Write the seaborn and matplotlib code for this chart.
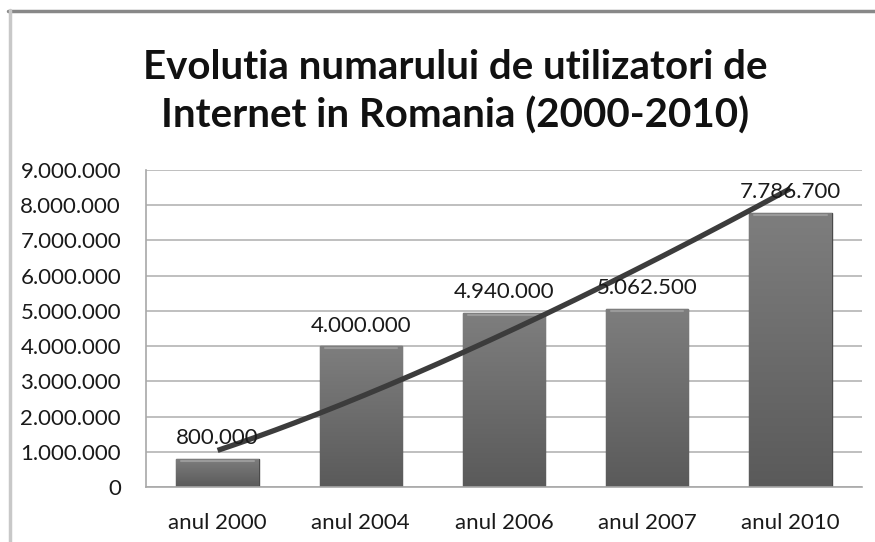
import numpy as np
import pandas as pd
import matplotlib
matplotlib.use("Agg")
import matplotlib.pyplot as plt
import seaborn as sns
from matplotlib.ticker import FuncFormatter, MultipleLocator
from matplotlib.lines import Line2D

categories = ["anul 2000", "anul 2004", "anul 2006", "anul 2007", "anul 2010"]
users = [800000, 4000000, 4940000, 5062500, 7786700]
value_labels = ["800.000", "4.000.000", "4.940.000", "5.062.500", "7.786.700"]
title_text = "Evolutia numarului de utilizatori de\nInternet in Romania (2000-2010)"

sns.set_theme(style="white")
plt.rcParams['font.family'] = ['Lato', 'DejaVu Sans']

df = pd.DataFrame({"cat": categories, "val": users})

fig = plt.figure(figsize=(8.75, 5.42), dpi=100)
ax = fig.add_axes([146/875, 1 - 487/542, (862-146)/875, (487-170)/542])

sns.barplot(data=df, x="cat", y="val", ax=ax, color="#6a6a6a", width=0.575,
            saturation=1, edgecolor="#4a4a4a", linewidth=1, zorder=2)

# gradient fill on bars
grad = np.linspace(0, 1, 256).reshape(-1, 1)
cmap = matplotlib.colors.LinearSegmentedColormap.from_list("g", ["#5a5a5a", "#7e7e7e"])
for p in ax.patches:
    x0, y0 = p.get_x(), p.get_y()
    w, h = p.get_width(), p.get_height()
    im = ax.imshow(grad, extent=[x0, x0 + w, y0, y0 + h], origin="lower",
                   cmap=cmap, aspect="auto", zorder=2.1)
    im.set_clip_path(p)
    ax.add_line(Line2D([x0 + w*0.06, x0 + w*0.94], [y0 + h - 60000, y0 + h - 60000],
                       color="#9a9a9a", lw=1.5, zorder=2.2))

ax.set_xlim(-0.5, 4.5)
ax.set_ylim(0, 9000000)

# power trendline (Excel-style power fit on x = 1..n)
xs = np.arange(1, len(users) + 1)
b, lna = np.polyfit(np.log(xs), np.log(users), 1)
xt = np.linspace(1, len(users), 200)
yt = np.exp(lna) * xt ** b
ax.plot(xt - 1, yt, color="#3c3c3c", lw=3.8, solid_capstyle="butt", zorder=4)

for i, (v, lab) in enumerate(zip(users, value_labels)):
    ax.text(i, v + 300000, lab, ha="center", va="bottom", fontsize=16,
            color="#1a1a1a", zorder=5)

ax.yaxis.set_major_locator(MultipleLocator(1000000))
ax.yaxis.set_major_formatter(FuncFormatter(lambda v, p: f"{int(v):,}".replace(",", ".")))
ax.grid(axis="y", color="#b4b4b4", lw=1.2, zorder=0)
ax.set_axisbelow(True)
for s in ["top", "right"]:
    ax.spines[s].set_visible(False)
for s in ["left", "bottom"]:
    ax.spines[s].set_color("#a8a8a8")
    ax.spines[s].set_linewidth(1.2)
ax.tick_params(axis="both", length=0, labelsize=16, labelcolor="#1a1a1a")
ax.tick_params(axis="x", pad=19)
ax.tick_params(axis="y", pad=18)
ax.set_xlabel("")
ax.set_ylabel("")

fig.text(455/875, 1 - 92/542, title_text, ha="center", va="center", fontsize=29,
         fontweight="bold", color="#111111", linespacing=1.35)

# outer frame
fig.add_artist(Line2D([8/875, 1], [1 - 10.5/542, 1 - 10.5/542], color="#888888", lw=2.5,
                      transform=fig.transFigure))
fig.add_artist(Line2D([9.5/875, 9.5/875], [0, 1 - 10/542], color="#c8c8c8", lw=2.5,
                      transform=fig.transFigure))

fig.savefig("out.png", dpi=100)
